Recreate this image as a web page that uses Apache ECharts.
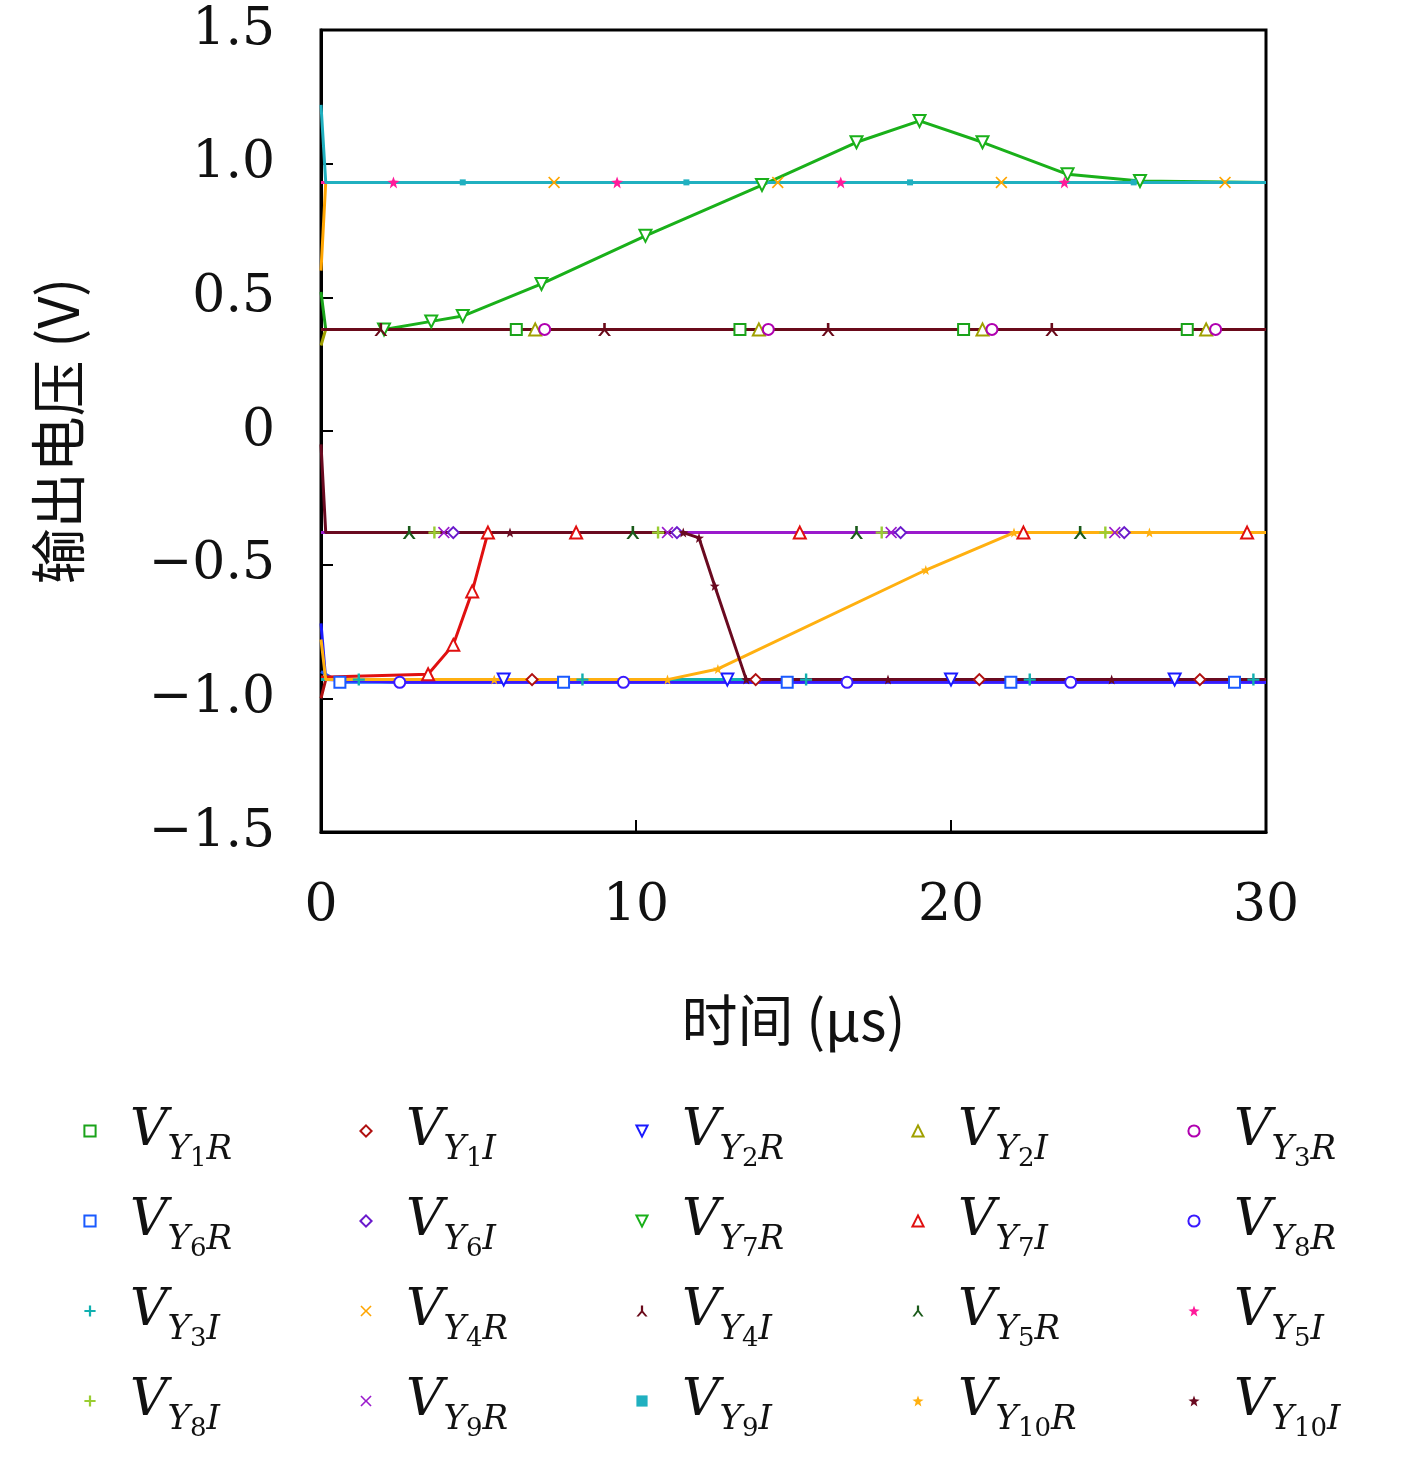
<!DOCTYPE html>
<html><head><meta charset="utf-8">
<script src="https://cdn.jsdelivr.net/npm/echarts@6/dist/echarts.min.js"></script>
<style>html,body{margin:0;padding:0;background:#fff}#c{width:1417px;height:1458px}</style>
</head><body><div id="c"></div>
<script>
// series names and subscripts
const names = ['Y1R','Y1I','Y2R','Y2I','Y3R','Y6R','Y6I','Y7R','Y7I','Y8R','Y3I','Y4R','Y4I','Y5R','Y5I','Y8I','Y9R','Y9I','Y10R','Y10I'];
const subs = [['1','R'],['1','I'],['2','R'],['2','I'],['3','R'],['6','R'],['6','I'],['7','R'],['7','I'],['8','R'],['3','I'],['4','R'],['4','I'],['5','R'],['5','I'],['8','I'],['9','R'],['9','I'],['10','R'],['10','I']];
const colors = ['#1aa31a','#b01010','#1a1aff','#a0a000','#b000b0','#1a5aff','#6a1acc','#1ab01a','#e01010','#3a1aff','#10b0b0','#ffa500','#6a0a1a','#1a5a1a','#ff1a9a','#9acd32','#9a1acc','#20b0c0','#ffb010','#6a0a20'];
// time/value pairs
const vY1R  = [[0,0.52],[0.15,0.38],[6.2,0.38],[13.3,0.38],[20.4,0.38],[27.5,0.38],[30,0.38]];
const vY1I  = [[0,-1.0],[0.15,-0.93],[6.7,-0.93],[13.8,-0.93],[20.9,-0.93],[27.9,-0.93],[30,-0.93]];
const vY2R  = [[0,-0.72],[0.15,-0.93],[5.8,-0.93],[12.9,-0.93],[20.0,-0.93],[27.1,-0.93],[30,-0.94]];
const vY2I  = [[0,0.32],[0.15,0.38],[6.8,0.38],[13.9,0.38],[21.0,0.38],[28.1,0.38],[30,0.38]];
const vY3R  = [[0,0.38],[0.15,0.38],[7.1,0.38],[14.2,0.38],[21.3,0.38],[28.4,0.38],[30,0.38]];
const vY6R  = [[0,-0.9],[0.6,-0.94],[7.7,-0.94],[14.8,-0.94],[21.9,-0.94],[29.0,-0.94],[30,-0.94]];
const vY6I  = [[0,-0.38],[0.15,-0.38],[4.2,-0.38],[11.3,-0.38],[18.4,-0.38],[25.5,-0.38],[30,-0.38]];
const vY7R  = [[0,0.38],[0.2,0.38],[2,0.38],[3.5,0.41],[4.5,0.43],[7,0.55],[10.3,0.73],[14,0.92],[17,1.08],[19,1.16],[21,1.08],[23.7,0.96],[26,0.935],[30,0.93]];
const vY7I  = [[0,-0.92],[0.2,-0.92],[3.4,-0.91],[4.2,-0.8],[4.8,-0.6],[5.3,-0.38],[8.1,-0.38],[15.2,-0.38],[22.3,-0.38],[29.4,-0.38],[30,-0.38]];
const vY8R  = [[0,-0.93],[0.15,-0.93],[2.5,-0.94],[9.6,-0.94],[16.7,-0.94],[23.8,-0.94],[30,-0.94]];
const vY3I  = [[0,-0.93],[1.2,-0.93],[8.3,-0.93],[15.4,-0.93],[22.5,-0.93],[29.6,-0.93],[30,-0.93]];
const vY4R  = [[0,0.6],[0.15,0.93],[7.4,0.93],[14.5,0.93],[21.6,0.93],[28.7,0.93],[30,0.93]];
const vY4I  = [[0,0.38],[0.15,0.38],[1.9,0.38],[9.0,0.38],[16.1,0.38],[23.2,0.38],[30,0.38]];
const vY5R  = [[0,-0.38],[0.15,-0.38],[2.8,-0.38],[9.9,-0.38],[17.0,-0.38],[24.1,-0.38],[30,-0.38]];
const vY5I  = [[0,0.93],[2.3,0.93],[9.4,0.93],[16.5,0.93],[23.6,0.93],[30,0.93]];
const vY8I  = [[0,-0.38],[3.6,-0.38],[10.7,-0.38],[17.8,-0.38],[24.9,-0.38],[30,-0.38]];
const vY9R  = [[0,-0.38],[3.9,-0.38],[11.0,-0.38],[18.1,-0.38],[25.2,-0.38],[30,-0.38]];
const vY9I  = [[0,1.22],[0.15,0.93],[4.5,0.93],[11.6,0.93],[18.7,0.93],[25.8,0.93],[30,0.93]];
const vY10R = [[0,-0.78],[0.15,-0.93],[5.5,-0.93],[11,-0.93],[12.6,-0.89],[19.2,-0.52],[22,-0.38],[26.3,-0.38],[30,-0.38]];
const vY10I = [[0,-0.05],[0.15,-0.38],[6.0,-0.38],[11.5,-0.38],[12,-0.4],[12.5,-0.58],[13.5,-0.93],[18.0,-0.93],[25.1,-0.93],[30,-0.93]];
const vals = [vY1R,vY1I,vY2R,vY2I,vY3R,vY6R,vY6I,vY7R,vY7I,vY8R,vY3I,vY4R,vY4I,vY5R,vY5I,vY8I,vY9R,vY9I,vY10R,vY10I];
const xTicks = [0,10,20,30];
const yTicks = [-1.5,-1.0,-0.5,0,0.5,1.0,1.5];

const plus = 'path://M4,0H6V4H10V6H6V10H4V6H0V4H4Z';
const cross = 'path://M1,0L5,4L9,0L10,1L6,5L10,9L9,10L5,6L1,10L0,9L4,5L0,1Z';
const ysym = 'path://M0,0L2,0L5,4L8,0L10,0L6,5.5V10H4V5.5Z';
const tri3 = 'path://M4,0H6V5L10,10H8L5,6.5L2,10H0L4,5Z';
const star = 'path://M5,0L6.2,3.5L10,3.8L7,6L8,10L5,7.7L2,10L3,6L0,3.8L3.8,3.5Z';
const syms = ['emptyRect','emptyDiamond','emptyTriangle','emptyTriangle','emptyCircle','emptyRect','emptyDiamond','emptyTriangle','emptyTriangle','emptyCircle',plus,cross,tri3,ysym,star,plus,cross,'rect',star,star];
const rot = [0,0,180,0,0,0,0,180,0,0,0,0,0,180,0,0,0,0,0,0];
const sizes = [11,11,12,12,11,11,11,12,12,11,12,12,13,13,12,12,12,6,10,10];

const serif = 'DejaVu Serif';
const fmtY = v => v === 0 ? '0' : (v < 0 ? '\u2212' : '') + Math.abs(v).toFixed(1);

const series = names.map((n,i)=>({
  name:n, type:'line', data:vals[i], symbol:syms[i], symbolSize:sizes[i], symbolRotate:rot[i],
  showSymbol:true, showAllSymbol:true, animation:false,
  lineStyle:{color:colors[i],width:3}, itemStyle:{color:colors[i],borderWidth:3}
}));
// hide markers at start transients and at the right edge
series.forEach(s=>{ s.data = s.data.map(p => (p[0] < 0.3 || p[0] >= 30) ? {value:p, symbol:'none'} : p); });

// 5 legend columns, 4 rows each
const legends = [0,1,2,3,4].map(c=>({
  data: [0,1,2,3].map(r => names[r*5 + c]), orient:'vertical',
  left: 78 + c*276, top: 1100, height: 400, itemGap: 23, itemWidth: 14, itemHeight: 14,
  formatter: n => { const k = names.indexOf(n); return '{v|V}{s|Y}{n|' + subs[k][0] + '}{t|' + subs[k][1] + '}'; },
  textStyle:{ rich:{
    v:{fontFamily:serif,fontStyle:'italic',fontSize:52,color:'#111',padding:[0,0,0,28]},
    s:{fontFamily:serif,fontStyle:'italic',fontSize:34,color:'#111',padding:[38,0,0,0]},
    n:{fontFamily:serif,fontSize:26,color:'#111',padding:[56,0,0,0]},
    t:{fontFamily:serif,fontStyle:'italic',fontSize:34,color:'#111',padding:[38,0,0,0]}
  }},
  lineStyle:{width:0, opacity:0},
  itemStyle:{borderWidth:3},
  selectedMode:false
}));

const chart = echarts.init(document.getElementById('c'));
chart.setOption({
  backgroundColor:'#fff', animation:false,
  color: colors,
  legend: legends,
  grid:{left:321,right:151,top:30,bottom:626,show:true,borderColor:'#000',borderWidth:3,containLabel:false},
  xAxis:{type:'value',min:0,max:30,interval:10,
    name:'时间 (μs)',nameLocation:'middle',nameGap:160,
    nameTextStyle:{fontFamily:'Noto Sans CJK SC',fontSize:56,color:'#111'},
    axisLine:{onZero:false,lineStyle:{color:'#000',width:3}},
    axisTick:{inside:true,length:12,lineStyle:{color:'#000',width:2}},
    axisLabel:{fontFamily:serif,fontSize:52,color:'#111',margin:48},
    splitLine:{show:false}},
  yAxis:{type:'value',min:-1.5,max:1.5,interval:0.5,
    name:'输出电压 (V)',nameLocation:'middle',nameGap:235,nameRotate:90,
    nameTextStyle:{fontFamily:'Noto Sans CJK SC',fontSize:56,color:'#111'},
    axisLine:{onZero:false,lineStyle:{color:'#000',width:3}},
    axisTick:{inside:true,length:12,lineStyle:{color:'#000',width:2}},
    axisLabel:{fontFamily:serif,fontSize:52,color:'#111',margin:46,formatter:fmtY},
    splitLine:{show:false}},
  series: series
});
</script></body></html>
